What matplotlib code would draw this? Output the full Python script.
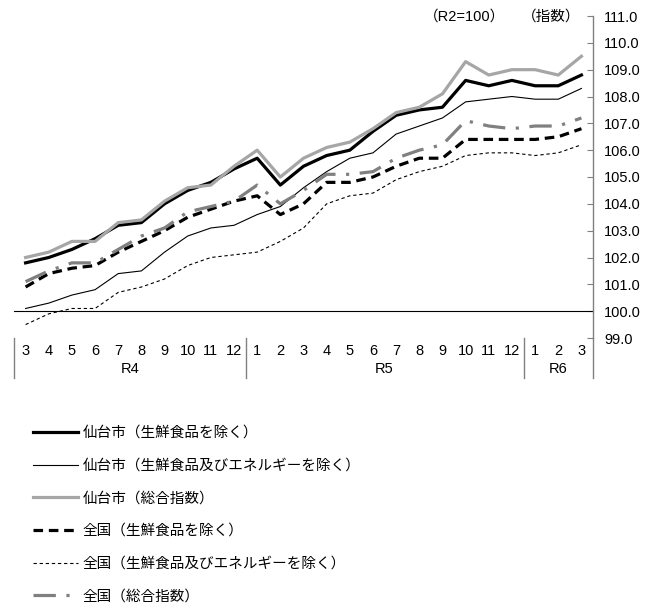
import matplotlib
matplotlib.use('Agg')
import matplotlib.pyplot as plt
import matplotlib.transforms as mtransforms

plt.rcParams['font.family'] = ['Liberation Sans', 'Noto Sans CJK JP', 'DejaVu Sans']

months = ['3', '4', '5', '6', '7', '8', '9', '10', '11', '12',
          '1', '2', '3', '4', '5', '6', '7', '8', '9', '10', '11', '12',
          '1', '2', '3']
years = ['R4', 'R5', 'R6']
year_spans = [(0, 9), (10, 21), (22, 24)]

sendai_core = [101.8, 102.0, 102.3, 102.7, 103.2, 103.3, 104.0, 104.5, 104.8, 105.3,
               105.7, 104.7, 105.4, 105.8, 106.0, 106.7, 107.3, 107.5, 107.6, 108.6,
               108.4, 108.6, 108.4, 108.4, 108.8]
sendai_core_core = [100.1, 100.3, 100.6, 100.8, 101.4, 101.5, 102.2, 102.8, 103.1, 103.2,
                    103.6, 103.9, 104.6, 105.2, 105.7, 105.9, 106.6, 106.9, 107.2, 107.8,
                    107.9, 108.0, 107.9, 107.9, 108.3]
sendai_all = [102.0, 102.2, 102.6, 102.6, 103.3, 103.4, 104.1, 104.6, 104.7, 105.4,
              106.0, 105.0, 105.7, 106.1, 106.3, 106.8, 107.4, 107.6, 108.1, 109.3,
              108.8, 109.0, 109.0, 108.8, 109.5]
national_core = [100.9, 101.4, 101.6, 101.7, 102.2, 102.6, 103.0, 103.5, 103.8, 104.1,
                 104.3, 103.6, 104.0, 104.8, 104.8, 105.0, 105.4, 105.7, 105.7, 106.4,
                 106.4, 106.4, 106.4, 106.5, 106.8]
national_core_core = [99.5, 99.9, 100.1, 100.1, 100.7, 100.9, 101.2, 101.7, 102.0, 102.1,
                      102.2, 102.6, 103.1, 104.0, 104.3, 104.4, 104.9, 105.2, 105.4, 105.8,
                      105.9, 105.9, 105.8, 105.9, 106.2]
national_all = [101.1, 101.5, 101.8, 101.8, 102.3, 102.8, 103.1, 103.7, 103.9, 104.1,
                104.7, 104.0, 104.5, 105.1, 105.1, 105.2, 105.7, 106.0, 106.2, 107.1,
                106.9, 106.8, 106.9, 106.9, 107.2]

labels = ['仙台市（生鮮食品を除く）',
          '仙台市（生鮮食品及びエネルギーを除く）',
          '仙台市（総合指数）',
          '全国（生鮮食品を除く）',
          '全国（生鮮食品及びエネルギーを除く）',
          '全国（総合指数）']

W, H = 656, 612
fig = plt.figure(figsize=(W / 100, H / 100), dpi=100)
ax = fig.add_axes([14 / W, 1 - 338 / H, (593 - 14) / W, (338 - 16) / H])

x = list(range(len(months)))
ax.plot(x, sendai_core, color='black', lw=2.3, label=labels[0])
ax.plot(x, sendai_core_core, color='black', lw=0.8, label=labels[1])
ax.plot(x, sendai_all, color='#a6a6a6', lw=2.3, label=labels[2])
ax.plot(x, national_core, color='black', lw=2.3, ls=(0, (3, 1.8)), label=labels[3])
ax.plot(x, national_core_core, color='black', lw=0.8, ls=(0, (3, 2.5)), label=labels[4])
ax.plot(x, national_all, color='#808080', lw=2.3, ls=(0, (7, 3.3, 1, 3.3)), label=labels[5])

ax.set_xlim(-0.5, len(months) - 0.5)
ax.set_ylim(99, 111)
ax.axhline(100, color='black', lw=0.8)

for s in ['top', 'left', 'bottom']:
    ax.spines[s].set_visible(False)
ax.spines['right'].set_color('#808080')
ax.spines['right'].set_linewidth(1.0)

ax.yaxis.tick_right()
ax.set_yticks(range(99, 112))
ax.set_yticklabels([f'{v:.1f}' for v in range(99, 112)], fontsize=10.5)
ax.tick_params(axis='y', direction='in', length=4, color='#808080', pad=8)
ax.set_xticks([])

trans = mtransforms.blended_transform_factory(ax.transData, ax.transAxes)
low = -40 / 322
for xs in [-0.5, 9.5, 21.5, 24.5]:
    ax.plot([xs, xs], [low, 0], transform=trans, color='#808080', lw=1.0, clip_on=False)
for i, m in enumerate(months):
    ax.text(i, -13 / 322, m, transform=trans, ha='center', va='center', fontsize=10.5)
for name, (a, b) in zip(years, year_spans):
    ax.text((a + b) / 2, -31 / 322, name, transform=trans, ha='center', va='center', fontsize=10.5)

fig.text(465 / W, 1 - 17 / H, '（R2=100）', ha='center', va='center', fontsize=10.5)
fig.text(551 / W, 1 - 17 / H, '（指数）', ha='center', va='center', fontsize=10.5)

fig.legend(loc='upper left', bbox_to_anchor=(33 / W, 1 - 426 / H), frameon=False,
           fontsize=10.5, handlelength=3.1, handletextpad=0.3, labelspacing=1.28,
           borderpad=0, borderaxespad=0)

fig.savefig('out.png', dpi=100)
